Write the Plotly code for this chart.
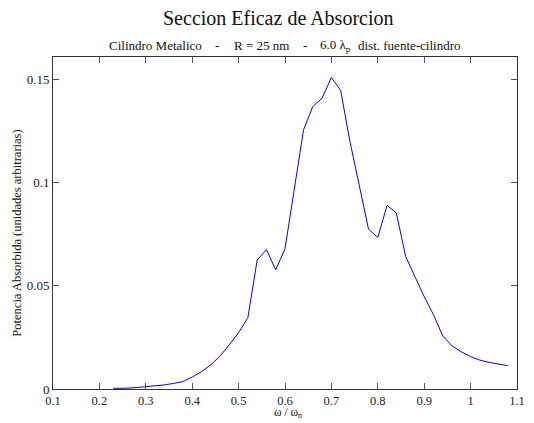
import plotly.graph_objects as go

omega = [0.23, 0.24, 0.26, 0.28, 0.30, 0.32, 0.34, 0.36, 0.38, 0.40,
         0.42, 0.44, 0.46, 0.48, 0.50, 0.52, 0.54, 0.56, 0.58, 0.60,
         0.62, 0.64, 0.66, 0.68, 0.70, 0.72, 0.74, 0.76, 0.78, 0.80,
         0.82, 0.84, 0.86, 0.88, 0.90, 0.92, 0.94, 0.96, 0.98, 1.00,
         1.02, 1.04, 1.06, 1.08]
potencia = [0.0003, 0.0003, 0.0004, 0.0007, 0.0011, 0.0014, 0.0020, 0.0027, 0.0036, 0.0058,
            0.0084, 0.0117, 0.0160, 0.0214, 0.0273, 0.0346, 0.0625, 0.0676, 0.0578, 0.0680,
            0.0958, 0.1257, 0.1370, 0.1410, 0.1511, 0.1447, 0.1200, 0.0985, 0.0775, 0.0735,
            0.0891, 0.0853, 0.0643, 0.0545, 0.0448, 0.0360, 0.0257, 0.0209, 0.0180, 0.0157,
            0.0140, 0.0129, 0.0121, 0.0113]

xticks = [0.1, 0.2, 0.3, 0.4, 0.5, 0.6, 0.7, 0.8, 0.9, 1.0, 1.1]
xticklabels = ["0.1", "0.2", "0.3", "0.4", "0.5", "0.6", "0.7", "0.8", "0.9", "1", "1.1"]
yticks = [0, 0.05, 0.1, 0.15]
yticklabels = ["0", "0.05", "0.1", "0.15"]

FONT = "Liberation Serif"
L, R, T, B = 53, 9, 57, 34
W, H = 534, 423
PW = W - L - R
PH = H - T - B

def px(xp):
    return (xp - L) / PW

def py(yp):
    return (H - B - yp) / PH

fig = go.Figure()
fig.add_trace(go.Scatter(x=omega, y=potencia, mode="lines",
                         line=dict(color="#0000ff", width=1), showlegend=False))

axis_common = dict(showgrid=False, zeroline=False, showline=True, linecolor="#333333",
                   linewidth=1, mirror="ticks", ticks="inside", ticklen=6,
                   tickcolor="#555555", tickwidth=1)

fig.update_xaxes(range=[0.1, 1.1], tickvals=xticks, ticktext=xticklabels,
                 tickfont=dict(family=FONT, size=12.5, color="#222222"), **axis_common)
fig.update_yaxes(range=[0, 0.161], tickvals=yticks, ticktext=yticklabels,
                 tickfont=dict(family=FONT, size=13, color="#222222"), **axis_common)

ann = []
ann.append(dict(text="Seccion Eficaz de Absorcion", x=px(282), y=py(18),
                xref="paper", yref="paper", showarrow=False, xanchor="center", yanchor="middle",
                font=dict(family=FONT, size=20, color="#111111")))
sub = [("Cilindro Metalico", 108), ("-", 216), ("R = 25 nm", 235), ("-", 305),
       ("6.0 λ<sub>p</sub>", 323), ("dist. fuente-cilindro", 361)]
for t, xp in sub:
    ann.append(dict(text=t, x=px(xp), y=py(45), xref="paper", yref="paper",
                    showarrow=False, xanchor="left", yanchor="middle",
                    font=dict(family=FONT, size=13, color="#111111")))
ann.append(dict(text="ω / ω<sub>n</sub>", x=px(292), y=py(404.5),
                xref="paper", yref="paper", showarrow=False, xanchor="center", yanchor="top",
                borderpad=0, font=dict(family=FONT, size=11.5, color="#111111")))
ann.append(dict(text="Potencia Absorbida (unidades arbitrarias)", x=px(16), y=py(233),
                xref="paper", yref="paper", showarrow=False, xanchor="center", yanchor="middle",
                textangle=-90, font=dict(family=FONT, size=12.5, color="#111111")))

fig.update_layout(width=W, height=H, margin=dict(l=L, r=R, t=T, b=B),
                  font=dict(family=FONT, color="#222222"),
                  paper_bgcolor="white", plot_bgcolor="white", annotations=ann)

fig.write_html("out.html")
